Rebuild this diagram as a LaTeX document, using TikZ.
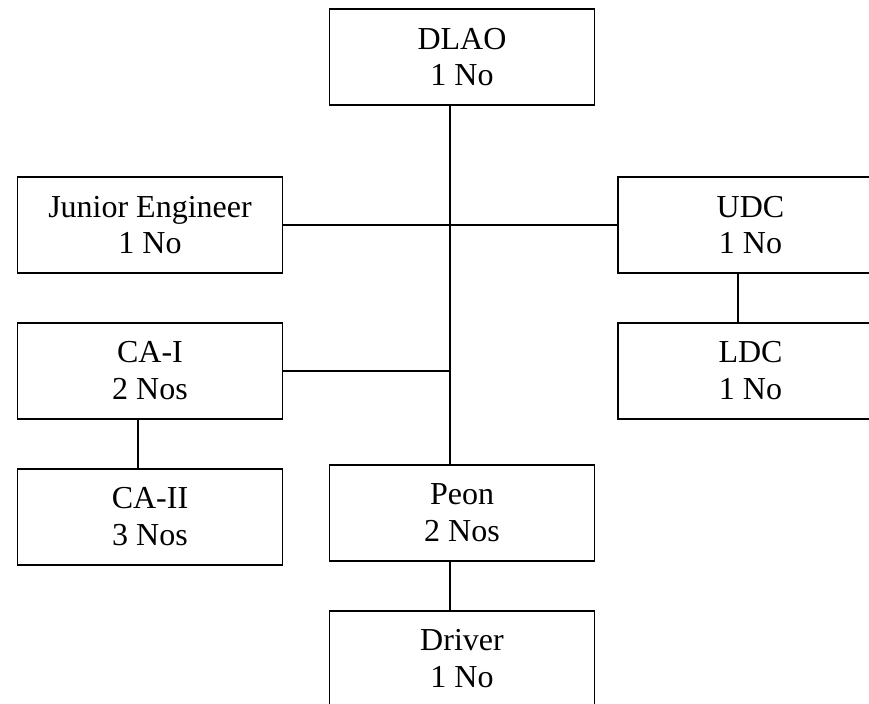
\documentclass[tikz,border=0pt]{standalone}
\usepackage{fontspec}
\setmainfont{Liberation Serif}
\usepackage{tikz}
\usetikzlibrary{positioning}

\begin{document}
\begin{tikzpicture}[x=0.75pt, y=-0.75pt,
  post/.style={draw, line width=1.4pt, rectangle, align=center,
               minimum width=198.75pt, minimum height=72pt, inner sep=0pt,
               font=\fontsize{24}{27.6}\selectfont},
  link/.style={line width=1.4pt}]
  \useasboundingbox (0,0) rectangle (869,704);
  \clip (0,0) rectangle (869,704);
  \node[post] (dlao) at (462,57) {DLAO\\1 No};
  \node[post] (je) at (150,225) {Junior Engineer\\1 No};
  \node[post, below=36pt of je] (ca1) {CA-I\\2 Nos};
  \node[post, below=36pt of ca1] (ca2) {CA-II\\3 Nos};
  \node[post] (udc) at (750.5,225) {UDC\\1 No};
  \node[post, below=36pt of udc] (ldc) {LDC\\1 No};
  \node[post] (peon) at (462,513) {Peon\\2 Nos};
  \node[post, below=36pt of peon] (driver) {Driver\\1 No};
  % branch points
  \coordinate (trunk) at (450,0);
  \coordinate (udcx) at (738,0);
  \coordinate (cax) at (138,0);
  \draw[link] (dlao.south -| trunk) -- (peon.north -| trunk);
  \draw[link] (je.east) -- (udc.west);
  \draw[link] (ca1.east) -- (ca1.east -| trunk);
  \draw[link] (udc.south -| udcx) -- (ldc.north -| udcx);
  \draw[link] (ca1.south -| cax) -- (ca2.north -| cax);
  \draw[link] (peon.south -| trunk) -- (driver.north -| trunk);
\end{tikzpicture}
\end{document}
